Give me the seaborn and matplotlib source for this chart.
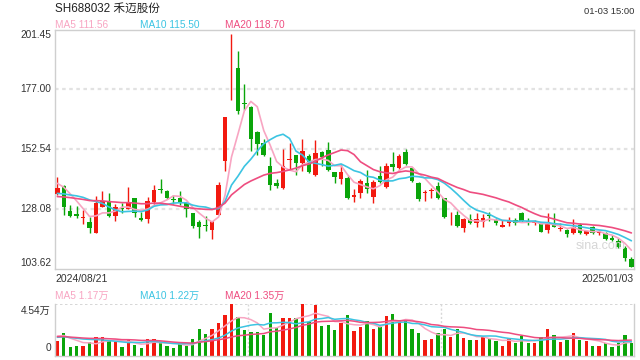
import numpy as np
import pandas as pd
import matplotlib
matplotlib.use("Agg")
import matplotlib.pyplot as plt
import seaborn as sns

# ---------------- data ----------------
opens = [134.4, 137.5, 127.3, 125.9, 124.5, 122.8, 118.4, 129.1, 131.1, 125.4,
         128.6, 128.2, 132.5, 124.6, 124.1, 131.1, 136.5, 135.5, 132.0, 132.6,
         130.4, 126.4, 122.7, 121.6, 119.7, 125.8, 147.9, 198.6, 185.7, 171.4,
         169.8, 159.6, 155.1, 145.8, 138.7, 136.7, 148.3, 150.1, 146.9, 149.8,
         142.1, 151.4, 152.1, 143.2, 140.5, 140.9, 132.9, 134.7, 138.6, 133.1,
         141.6, 137.2, 146.5, 144.7, 151.5, 144.7, 138.9, 134.6, 135.4, 137.5,
         132.5, 124.7, 125.8, 120.5, 124.0, 122.3, 122.9, 125.7, 123.7, 120.9,
         122.3, 123.7, 126.4, 123.4, 122.4, 122.3, 119.5, 122.6, 120.0, 119.5,
         118.2, 121.6, 117.8, 120.6, 118.2, 118.2, 116.1, 115.1, 112.1, 107.6]
highs = [141.0, 137.8, 129.8, 129.4, 127.6, 124.9, 133.4, 135.5, 134.5, 130.0,
         130.4, 137.2, 132.7, 127.0, 133.2, 137.9, 140.3, 135.8, 133.8, 135.5,
         130.6, 126.6, 123.5, 125.4, 123.3, 139.1, 165.9, 199.6, 192.5, 179.2,
         170.0, 160.1, 156.7, 149.4, 140.5, 152.7, 155.1, 150.3, 156.7, 150.6,
         156.2, 151.8, 155.4, 143.4, 146.4, 141.6, 136.2, 140.4, 144.1, 139.8,
         145.7, 146.8, 151.5, 150.6, 152.6, 145.4, 139.1, 135.9, 136.8, 139.3,
         132.7, 127.0, 127.2, 124.6, 126.0, 126.5, 126.0, 126.8, 124.4, 123.6,
         124.7, 124.5, 127.0, 124.4, 123.6, 123.0, 126.4, 126.6, 122.6, 119.8,
         123.9, 122.6, 119.5, 121.2, 119.4, 118.9, 117.5, 116.1, 113.0, 108.6]
lows = [134.0, 125.8, 124.9, 124.5, 121.9, 118.4, 118.2, 129.0, 125.0, 123.3,
        126.6, 128.0, 124.9, 123.3, 122.3, 129.8, 134.8, 132.1, 130.0, 129.8,
        124.9, 120.5, 116.3, 119.0, 115.9, 125.5, 143.6, 172.8, 166.9, 168.7,
        152.0, 150.1, 149.9, 136.0, 136.7, 136.4, 144.2, 141.9, 143.5, 143.0,
        141.8, 145.8, 143.8, 138.7, 138.5, 132.1, 131.1, 132.7, 134.5, 130.7,
        138.9, 136.8, 143.8, 144.4, 146.1, 139.2, 131.5, 131.4, 132.7, 132.3,
        124.4, 121.6, 120.9, 118.7, 121.9, 120.8, 120.8, 123.4, 121.6, 120.8,
        121.2, 121.4, 122.9, 121.6, 121.6, 118.6, 118.2, 120.6, 119.0, 116.8,
        118.0, 118.0, 117.7, 117.8, 117.5, 115.6, 115.2, 112.0, 107.0, 104.3]
closes = [136.6, 129.1, 125.4, 125.4, 124.9, 120.5, 130.4, 131.5, 125.4, 128.8,
          128.3, 130.8, 126.4, 123.6, 131.4, 135.9, 136.0, 132.5, 131.7, 130.4,
          128.0, 121.2, 120.8, 121.2, 123.1, 138.0, 165.7, 198.8, 168.0, 171.0,
          156.9, 154.8, 150.3, 138.0, 137.6, 145.6, 148.6, 146.9, 152.0, 143.2,
          151.0, 149.4, 144.2, 141.2, 143.2, 132.7, 134.0, 139.5, 136.3, 139.3,
          139.3, 145.7, 145.1, 149.8, 146.5, 139.6, 132.1, 134.9, 135.7, 132.7,
          124.7, 125.0, 121.2, 124.0, 122.3, 124.0, 124.3, 125.3, 122.3, 121.6,
          123.3, 122.3, 123.4, 123.0, 122.7, 118.9, 123.0, 120.9, 120.3, 117.8,
          120.9, 118.2, 119.0, 118.4, 118.5, 115.9, 115.6, 112.5, 108.0, 104.5]
# volume, unit: 万
volumes = [1.28, 2.01, 0.72, 0.84, 0.84, 1.16, 1.60, 1.60, 1.28, 1.22,
           0.72, 1.43, 0.93, 0.69, 1.43, 1.43, 1.13, 0.84, 0.69, 1.01,
           0.84, 1.46, 2.34, 1.90, 2.34, 2.90, 3.57, 4.54, 3.37, 2.25,
           2.10, 2.10, 1.81, 3.78, 2.40, 3.34, 3.34, 3.34, 4.52, 2.98,
           4.45, 2.60, 2.69, 2.25, 2.90, 3.57, 2.16, 2.51, 3.04, 2.34,
           2.54, 3.51, 3.66, 3.04, 3.13, 2.34, 2.01, 1.37, 1.46, 2.01,
           2.34, 1.66, 2.34, 1.57, 1.37, 1.37, 1.63, 1.49, 1.31, 0.84,
           1.46, 1.13, 1.75, 1.13, 1.13, 1.60, 2.34, 1.81, 1.22, 1.37,
           2.01, 1.37, 1.31, 0.84, 0.84, 1.07, 0.75, 1.07, 1.81, 1.13]
# estimated closes / volumes of the 19 sessions before the window (MA warm-up)
pre_close = [132, 131, 133, 132, 130, 131, 133, 132, 132, 133,
             131, 130, 129, 131, 131, 137, 139, 140, 140.4]
pre_volume = [1.7, 1.8, 1.6, 1.7, 1.75, 1.7, 1.65, 1.8, 1.7, 1.8,
              1.5, 1.4, 1.5, 1.5, 1.5, 1.8, 1.9, 1.8, 1.82]

price_ticks = [201.45, 177.00, 152.54, 128.08, 103.62]
vol_top = 4.54
title = "SH688032 禾迈股份"
time_label = "01-03 15:00"
start_date, end_date = "2024/08/21", "2025/01/03"
ma_price_labels = ["MA5 111.56", "MA10 115.50", "MA20 118.70"]
ma_vol_labels = ["MA5 1.17万", "MA10 1.22万", "MA20 1.35万"]

# ---------------- derived ----------------
n = len(closes)
idx = np.arange(n)
df = pd.DataFrame({"i": idx, "open": opens, "high": highs, "low": lows,
                   "close": closes, "vol": volumes})
full_c = pd.Series(pre_close + closes)
full_v = pd.Series(pre_volume + volumes)
k = len(pre_close)
for w in (5, 10, 20):
    df[f"ma{w}"] = full_c.rolling(w, min_periods=1).mean().values[k:]
    df[f"vma{w}"] = full_v.rolling(w, min_periods=1).mean().values[k:]

RED, GREEN = "#f2190f", "#0aa50a"
C5, C10, C20 = "#f8a5c2", "#3cc4e2", "#ee4d80"
up = df["close"] >= df["open"]
colors = np.where(up, RED, GREEN)

sns.set_style("white")
plt.rcParams["font.family"] = ["Liberation Sans", "Noto Sans CJK SC", "DejaVu Sans"]

W, H = 640, 360
fig = plt.figure(figsize=(6.4, 3.6), dpi=100)

def px(x, y):
    return x / W, 1 - y / H

L, R = 54.5, 634.3
ax = fig.add_axes([L / W, 1 - 269 / H, (R - L) / W, 239.5 / H])
axv = fig.add_axes([L / W, 4.5 / H, (R - L) / W, 51.5 / H])
xlim = (-0.44, n - 1 + 0.45)

# ---- price panel ----
ax.set_xlim(*xlim)
ax.set_ylim(price_ticks[-1], price_ticks[0])
for v in price_ticks[1:-1]:
    ax.axhline(v, color="#e2e2e2", lw=1.6, ls=(0, (1.6, 1.6)), zorder=0)
ax.vlines(df["i"], df["low"], df["high"], colors=colors, lw=1, zorder=2)
body_lo = np.minimum(df["open"], df["close"])
body_h = np.maximum(np.abs(df["close"] - df["open"]), 0.35)
ax.bar(df["i"], body_h, bottom=body_lo, width=0.7, color=colors, lw=0, zorder=3)
for w, c in ((5, C5), (10, C10), (20, C20)):
    sns.lineplot(data=df, x="i", y=f"ma{w}", ax=ax, color=c, lw=1.2, zorder=4)
ax.set_xticks([]); ax.set_yticks([])
ax.set_xlabel(""); ax.set_ylabel("")
for s in ax.spines.values():
    s.set_color("#cfcfcf"); s.set_linewidth(1)
ax.text(0.985, 0.085, "sina.com", transform=ax.transAxes, ha="right",
        va="baseline", fontsize=9, color="#d6d6d6")

# ---- volume panel ----
axv.set_xlim(*xlim)
axv.set_ylim(0, vol_top)
axv.bar(df["i"], df["vol"], width=0.52, color=colors, lw=0, zorder=2)
for w, c in ((5, C5), (10, C10), (20, C20)):
    sns.lineplot(data=df, x="i", y=f"vma{w}", ax=axv, color=c, lw=1.1, zorder=3)
axv.axhline(vol_top, color="#d0d0d0", lw=1.2, ls=(0, (1.5, 1.5)), zorder=0)
for f in (1 / 3, 2 / 3):
    axv.plot([f, f], [0, 1], transform=axv.transAxes, color="#d8d8d8",
             lw=1, ls=(0, (1.5, 1.5)), zorder=0)
axv.set_xticks([]); axv.set_yticks([])
axv.set_xlabel(""); axv.set_ylabel("")
axv.spines["top"].set_visible(False)
for s in ("left", "right", "bottom"):
    axv.spines[s].set_color("#cfcfcf"); axv.spines[s].set_linewidth(1)

# ---- texts ----
fig.text(*px(55, 11.8), title, fontsize=8.4, color="#222222", va="baseline")
fig.text(*px(634, 14.5), time_label, fontsize=6.8, color="#333333",
         ha="right", va="baseline")
for (xx, lab, c) in zip((55, 140, 225), ma_price_labels, (C5, C10, C20)):
    fig.text(*px(xx, 27.5), lab, fontsize=7.3, color=c, va="baseline")
for (xx, lab, c) in zip((55, 140, 225), ma_vol_labels, (C5, C10, C20)):
    fig.text(*px(xx, 298.5), lab, fontsize=7.3, color=c, va="baseline")
ylab_pos = [35, 89.4, 149.3, 209.2, 263.5]
for v, yy in zip(price_ticks, ylab_pos):
    fig.text(*px(51, yy), f"{v:.2f}", fontsize=7.3, color="#333333",
             ha="right", va="center")
fig.text(*px(51, 311), f"{vol_top:.2f}万", fontsize=7.3, color="#333333",
         ha="right", va="center")
fig.text(*px(51, 348), "0", fontsize=7.3, color="#333333", ha="right", va="center")
fig.text(*px(55, 281.5), start_date, fontsize=7.5, color="#333333", va="baseline")
fig.text(*px(634, 281.5), end_date, fontsize=7.5, color="#333333",
         ha="right", va="baseline")

fig.savefig("out.png", dpi=100)
